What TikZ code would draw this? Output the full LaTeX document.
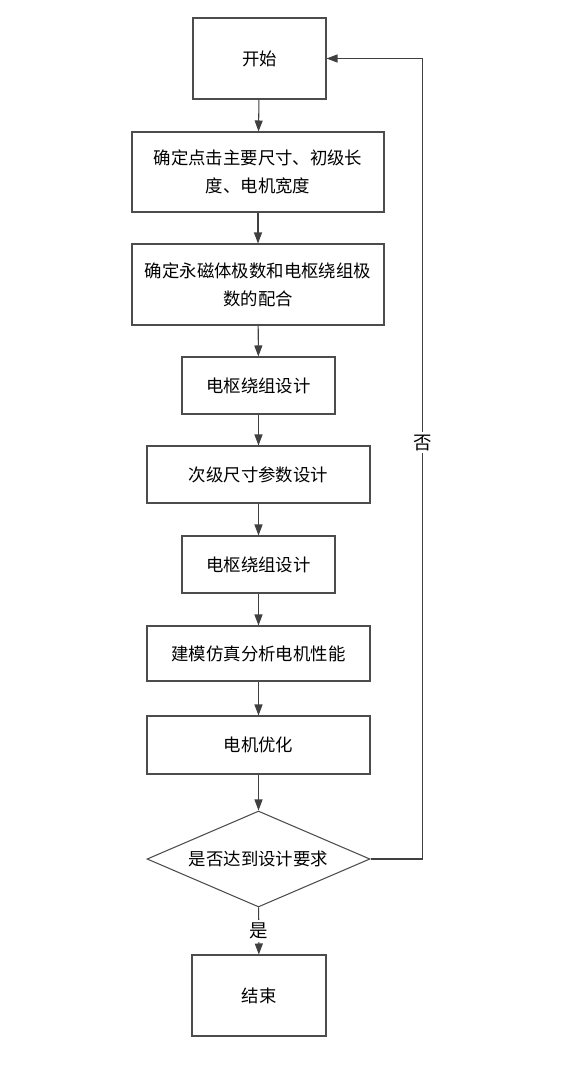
\documentclass[tikz,border=0pt]{standalone}
\usepackage{fontspec}
\setmainfont{Noto Sans CJK SC}
\usetikzlibrary{shapes.geometric,arrows.meta}

\tikzset{
  stepbox/.style={draw=black!70, line width=0.6pt, rectangle, align=center,
    inner sep=0pt, font=\fontsize{9.9pt}{16pt}\selectfont},
  flow/.style={draw=black!75, line width=0.6pt, -{Triangle[length=0.22cm,width=0.16cm]}},
}

\begin{document}
\begin{tikzpicture}[x=0.02cm,y=-0.02cm]
    \useasboundingbox (0,0) rectangle (577,1075);

    % boxes
    \node[stepbox, minimum width=2.66cm, minimum height=1.62cm] (start) at (259.5,58.5) {开始};
    \node[stepbox, minimum width=5.04cm, minimum height=1.6cm] (size) at (258,172) {确定点击主要尺寸、初级长\\度、电机宽度};
    \node[stepbox, minimum width=5.04cm, minimum height=1.62cm] (poles) at (258,284.5) {确定永磁体极数和电枢绕组极\\数的配合};
    \node[stepbox, minimum width=3.06cm, minimum height=1.14cm] (wind1) at (258.5,385.5) {电枢绕组设计};
    \node[stepbox, minimum width=4.46cm, minimum height=1.14cm] (second) at (258.5,474.5) {次级尺寸参数设计};
    \node[stepbox, minimum width=3.06cm, minimum height=1.14cm] (wind2) at (258.5,564.5) {电枢绕组设计};
    \node[stepbox, minimum width=4.46cm, minimum height=1.1cm] (model) at (258.5,653.5) {建模仿真分析电机性能};
    \node[stepbox, minimum width=4.46cm, minimum height=1.16cm] (optim) at (258.5,745) {电机优化};

    % decision
    \node[stepbox, diamond, aspect=2.32, minimum width=4.46cm, minimum height=1.92cm] (check) at (258.5,859) {是否达到设计要求};

    \node[stepbox, minimum width=2.68cm, minimum height=1.62cm] (stop) at (259,995.5) {结束};

    % arrows
    \draw[flow] (start) -- (size);
    \draw[flow] (size) -- (poles);
    \draw[flow] (poles) -- (wind1);
    \draw[flow] (wind1) -- (second);
    \draw[flow] (second) -- (wind2);
    \draw[flow] (wind2) -- (model);
    \draw[flow] (model) -- (optim);
    \draw[flow] (optim) -- (check);
    \draw[flow] (check) -- node[fill=white, inner sep=1.5pt, font=\fontsize{10.5pt}{12pt}\selectfont] {是} (stop);
    \draw[flow] (check.east) -- ++(52,0) |- node[pos=0.26, fill=white, inner sep=1.5pt, font=\fontsize{10.5pt}{12pt}\selectfont] {否} (start.east);
\end{tikzpicture}
\end{document}
